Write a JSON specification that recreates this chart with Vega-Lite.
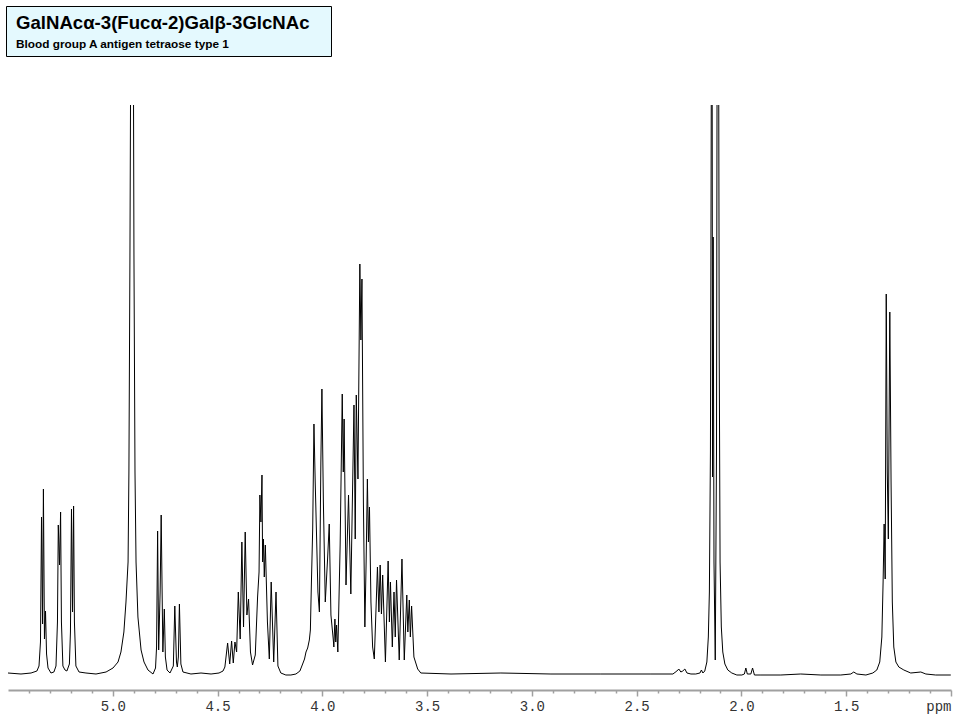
{
  "$schema": "https://vega.github.io/schema/vega-lite/v6.json",
  "padding": {"left": 5, "top": 5, "right": 5, "bottom": 5},
  "background": "white",
  "config": {"view": {"stroke": null}},
  "spacing": 48,
  "vconcat": [
    {
      "width": 325,
      "height": 50,
      "view": {"fill": "#e4f9fe", "stroke": "black", "strokeWidth": 1},
      "data": {"values": [
        {"k": "t", "txt": "GalNAcα-3(Fucα-2)Galβ-3GlcNAc"},
        {"k": "s", "txt": "Blood group A antigen tetraose type 1"}
      ]},
      "encoding": {
        "x": {"datum": 0, "type": "quantitative", "scale": {"domain": [0, 1], "range": [10, 325]}, "axis": null},
        "y": {"field": "k", "type": "nominal", "scale": {"type": "point", "padding": 0, "domain": ["t", "s"], "range": [22.5, 41.5]}, "axis": null},
        "text": {"field": "txt"}
      },
      "layer": [
        {"transform": [{"filter": "datum.k == 't'"}],
         "mark": {"type": "text", "align": "left", "baseline": "alphabetic", "font": "Liberation Sans", "fontWeight": "bold", "fontSize": 18.6, "color": "black"}},
        {"transform": [{"filter": "datum.k == 's'"}],
         "mark": {"type": "text", "align": "left", "baseline": "alphabetic", "font": "Liberation Sans", "fontWeight": "bold", "fontSize": 11.8, "color": "black"}}
      ]
    },
    {
      "width": 945,
      "height": 585,
      "data": {"values": [
        {"ppm": 5.500, "i": 0}, {"ppm": 5.438, "i": -1}, {"ppm": 5.390, "i": 0}, {"ppm": 5.362, "i": 2},
        {"ppm": 5.352, "i": 7}, {"ppm": 5.345, "i": 31}, {"ppm": 5.340, "i": 156}, {"ppm": 5.335, "i": 49},
        {"ppm": 5.331, "i": 184}, {"ppm": 5.326, "i": 34}, {"ppm": 5.321, "i": 62}, {"ppm": 5.316, "i": 19},
        {"ppm": 5.309, "i": 5}, {"ppm": 5.295, "i": 0}, {"ppm": 5.281, "i": 1}, {"ppm": 5.271, "i": 7},
        {"ppm": 5.264, "i": 51}, {"ppm": 5.260, "i": 148}, {"ppm": 5.254, "i": 108}, {"ppm": 5.249, "i": 161},
        {"ppm": 5.245, "i": 51}, {"ppm": 5.238, "i": 7}, {"ppm": 5.228, "i": 3}, {"ppm": 5.219, "i": 2},
        {"ppm": 5.207, "i": 9}, {"ppm": 5.202, "i": 41}, {"ppm": 5.197, "i": 164}, {"ppm": 5.192, "i": 61},
        {"ppm": 5.187, "i": 167}, {"ppm": 5.183, "i": 51}, {"ppm": 5.176, "i": 7}, {"ppm": 5.161, "i": 1},
        {"ppm": 5.128, "i": 0}, {"ppm": 5.080, "i": -1}, {"ppm": 5.032, "i": 1}, {"ppm": 4.999, "i": 5},
        {"ppm": 4.975, "i": 11}, {"ppm": 4.961, "i": 21}, {"ppm": 4.947, "i": 41}, {"ppm": 4.937, "i": 71},
        {"ppm": 4.927, "i": 111}, {"ppm": 4.923, "i": 201}, {"ppm": 4.918, "i": 421}, {"ppm": 4.914, "i": 650},
        {"ppm": 4.908, "i": 1500}, {"ppm": 4.902, "i": 650}, {"ppm": 4.899, "i": 421}, {"ppm": 4.894, "i": 201},
        {"ppm": 4.889, "i": 111}, {"ppm": 4.880, "i": 56}, {"ppm": 4.865, "i": 23}, {"ppm": 4.851, "i": 11},
        {"ppm": 4.832, "i": 3}, {"ppm": 4.808, "i": -1}, {"ppm": 4.796, "i": 5}, {"ppm": 4.791, "i": 26},
        {"ppm": 4.786, "i": 142}, {"ppm": 4.781, "i": 23}, {"ppm": 4.774, "i": 81}, {"ppm": 4.769, "i": 158},
        {"ppm": 4.761, "i": 21}, {"ppm": 4.754, "i": 64}, {"ppm": 4.749, "i": 16}, {"ppm": 4.741, "i": 3},
        {"ppm": 4.727, "i": 0}, {"ppm": 4.711, "i": 7}, {"ppm": 4.704, "i": 67}, {"ppm": 4.696, "i": 11},
        {"ppm": 4.692, "i": 6}, {"ppm": 4.687, "i": 16}, {"ppm": 4.682, "i": 69}, {"ppm": 4.675, "i": 9},
        {"ppm": 4.665, "i": 1}, {"ppm": 4.627, "i": -1}, {"ppm": 4.579, "i": 0}, {"ppm": 4.531, "i": -1},
        {"ppm": 4.493, "i": 0}, {"ppm": 4.474, "i": 2}, {"ppm": 4.465, "i": 6}, {"ppm": 4.452, "i": 30},
        {"ppm": 4.442, "i": 9}, {"ppm": 4.433, "i": 32}, {"ppm": 4.425, "i": 10}, {"ppm": 4.417, "i": 31},
        {"ppm": 4.409, "i": 21}, {"ppm": 4.401, "i": 81}, {"ppm": 4.392, "i": 34}, {"ppm": 4.384, "i": 131},
        {"ppm": 4.376, "i": 46}, {"ppm": 4.368, "i": 141}, {"ppm": 4.360, "i": 58}, {"ppm": 4.352, "i": 74},
        {"ppm": 4.343, "i": 21}, {"ppm": 4.333, "i": 8}, {"ppm": 4.320, "i": 18}, {"ppm": 4.309, "i": 76},
        {"ppm": 4.302, "i": 101}, {"ppm": 4.298, "i": 178}, {"ppm": 4.293, "i": 151}, {"ppm": 4.288, "i": 198},
        {"ppm": 4.285, "i": 111}, {"ppm": 4.281, "i": 134}, {"ppm": 4.277, "i": 96}, {"ppm": 4.272, "i": 128},
        {"ppm": 4.262, "i": 51}, {"ppm": 4.253, "i": 14}, {"ppm": 4.244, "i": 91}, {"ppm": 4.232, "i": 11},
        {"ppm": 4.221, "i": 81}, {"ppm": 4.212, "i": 7}, {"ppm": 4.198, "i": 0}, {"ppm": 4.174, "i": -2},
        {"ppm": 4.150, "i": -2}, {"ppm": 4.126, "i": -1}, {"ppm": 4.107, "i": 2}, {"ppm": 4.094, "i": 9},
        {"ppm": 4.085, "i": 14}, {"ppm": 4.078, "i": 21}, {"ppm": 4.070, "i": 25}, {"ppm": 4.062, "i": 33},
        {"ppm": 4.057, "i": 43}, {"ppm": 4.052, "i": 91}, {"ppm": 4.046, "i": 144}, {"ppm": 4.040, "i": 249},
        {"ppm": 4.034, "i": 191}, {"ppm": 4.028, "i": 141}, {"ppm": 4.021, "i": 81}, {"ppm": 4.014, "i": 61},
        {"ppm": 4.007, "i": 211}, {"ppm": 4.002, "i": 284}, {"ppm": 3.995, "i": 171}, {"ppm": 3.986, "i": 71},
        {"ppm": 3.975, "i": 114}, {"ppm": 3.967, "i": 149}, {"ppm": 3.959, "i": 58}, {"ppm": 3.948, "i": 34},
        {"ppm": 3.945, "i": 26}, {"ppm": 3.940, "i": 54}, {"ppm": 3.936, "i": 31}, {"ppm": 3.932, "i": 48},
        {"ppm": 3.926, "i": 21}, {"ppm": 3.915, "i": 128}, {"ppm": 3.905, "i": 279}, {"ppm": 3.900, "i": 201},
        {"ppm": 3.896, "i": 254}, {"ppm": 3.887, "i": 88}, {"ppm": 3.883, "i": 118}, {"ppm": 3.875, "i": 178},
        {"ppm": 3.864, "i": 79}, {"ppm": 3.849, "i": 268}, {"ppm": 3.843, "i": 134}, {"ppm": 3.838, "i": 278},
        {"ppm": 3.830, "i": 194}, {"ppm": 3.821, "i": 409}, {"ppm": 3.816, "i": 333}, {"ppm": 3.811, "i": 394},
        {"ppm": 3.804, "i": 171}, {"ppm": 3.797, "i": 46}, {"ppm": 3.791, "i": 111}, {"ppm": 3.785, "i": 194},
        {"ppm": 3.780, "i": 131}, {"ppm": 3.775, "i": 166}, {"ppm": 3.768, "i": 71}, {"ppm": 3.760, "i": 26},
        {"ppm": 3.752, "i": 14}, {"ppm": 3.737, "i": 106}, {"ppm": 3.730, "i": 61}, {"ppm": 3.724, "i": 108},
        {"ppm": 3.718, "i": 59}, {"ppm": 3.712, "i": 98}, {"ppm": 3.699, "i": 11}, {"ppm": 3.686, "i": 112},
        {"ppm": 3.680, "i": 51}, {"ppm": 3.675, "i": 91}, {"ppm": 3.666, "i": 26}, {"ppm": 3.658, "i": 81},
        {"ppm": 3.652, "i": 36}, {"ppm": 3.646, "i": 93}, {"ppm": 3.633, "i": 13}, {"ppm": 3.620, "i": 114},
        {"ppm": 3.609, "i": 13}, {"ppm": 3.597, "i": 78}, {"ppm": 3.592, "i": 41}, {"ppm": 3.585, "i": 73},
        {"ppm": 3.580, "i": 36}, {"ppm": 3.574, "i": 67}, {"ppm": 3.563, "i": 16}, {"ppm": 3.545, "i": 4},
        {"ppm": 3.530, "i": 0}, {"ppm": 3.386, "i": -1}, {"ppm": 3.148, "i": 0}, {"ppm": 2.909, "i": -1},
        {"ppm": 2.671, "i": -1}, {"ppm": 2.432, "i": -1}, {"ppm": 2.327, "i": -1}, {"ppm": 2.308, "i": 2},
        {"ppm": 2.299, "i": 4}, {"ppm": 2.289, "i": 1}, {"ppm": 2.280, "i": 2}, {"ppm": 2.270, "i": 4},
        {"ppm": 2.260, "i": 0}, {"ppm": 2.241, "i": -1}, {"ppm": 2.218, "i": -1}, {"ppm": 2.198, "i": 0},
        {"ppm": 2.191, "i": 3}, {"ppm": 2.184, "i": 0}, {"ppm": 2.175, "i": 2}, {"ppm": 2.165, "i": 11},
        {"ppm": 2.158, "i": 36}, {"ppm": 2.153, "i": 81}, {"ppm": 2.148, "i": 221}, {"ppm": 2.145, "i": 471},
        {"ppm": 2.141, "i": 900}, {"ppm": 2.138, "i": 196}, {"ppm": 2.135, "i": 436}, {"ppm": 2.131, "i": 111},
        {"ppm": 2.125, "i": 13}, {"ppm": 2.119, "i": 221}, {"ppm": 2.116, "i": 650}, {"ppm": 2.113, "i": 1000},
        {"ppm": 2.109, "i": 650}, {"ppm": 2.106, "i": 321}, {"ppm": 2.102, "i": 111}, {"ppm": 2.096, "i": 46},
        {"ppm": 2.089, "i": 21}, {"ppm": 2.079, "i": 9}, {"ppm": 2.065, "i": 3}, {"ppm": 2.046, "i": 0},
        {"ppm": 2.022, "i": -2}, {"ppm": 1.998, "i": -2}, {"ppm": 1.986, "i": -1}, {"ppm": 1.979, "i": 5},
        {"ppm": 1.972, "i": -1}, {"ppm": 1.955, "i": -1}, {"ppm": 1.947, "i": 5}, {"ppm": 1.938, "i": -2},
        {"ppm": 1.907, "i": -2}, {"ppm": 1.812, "i": -2}, {"ppm": 1.717, "i": -1}, {"ppm": 1.621, "i": -2},
        {"ppm": 1.526, "i": -2}, {"ppm": 1.478, "i": -1}, {"ppm": 1.464, "i": 1}, {"ppm": 1.449, "i": -1},
        {"ppm": 1.406, "i": -2}, {"ppm": 1.373, "i": 0}, {"ppm": 1.354, "i": 3}, {"ppm": 1.340, "i": 11},
        {"ppm": 1.330, "i": 36}, {"ppm": 1.324, "i": 91}, {"ppm": 1.319, "i": 149}, {"ppm": 1.314, "i": 94},
        {"ppm": 1.309, "i": 379}, {"ppm": 1.304, "i": 201}, {"ppm": 1.299, "i": 134}, {"ppm": 1.292, "i": 361},
        {"ppm": 1.286, "i": 191}, {"ppm": 1.280, "i": 71}, {"ppm": 1.273, "i": 26}, {"ppm": 1.263, "i": 11},
        {"ppm": 1.249, "i": 6}, {"ppm": 1.225, "i": 3}, {"ppm": 1.192, "i": 0}, {"ppm": 1.144, "i": 1},
        {"ppm": 1.120, "i": -1}, {"ppm": 1.073, "i": -2}, {"ppm": 1.001, "i": -2}
      ]},
      "mark": {"type": "line", "clip": true, "color": "black", "strokeWidth": 1},
      "encoding": {
        "x": {
          "field": "ppm", "type": "quantitative",
          "scale": {"domain": [5.5, 1.0], "range": [2, 945], "nice": false, "zero": false},
          "axis": {
            "title": null,
            "grid": false,
            "values": [5.4, 5.3, 5.2, 5.1, 5.0, 4.9, 4.8, 4.7, 4.6, 4.5, 4.4, 4.3, 4.2, 4.1, 4.0, 3.9, 3.8, 3.7, 3.6, 3.5, 3.4, 3.3, 3.2, 3.1, 3.0, 2.9, 2.8, 2.7, 2.6, 2.5, 2.4, 2.3, 2.2, 2.1, 2.0, 1.9, 1.8, 1.7, 1.6, 1.5, 1.4, 1.3, 1.2, 1.1, 1.0],
            "domainColor": "#a0a0a0",
            "domainWidth": 2,
            "tickColor": "#a0a0a0",
            "tickWidth": 1.5,
            "tickSize": {"condition": {"test": "abs(datum.value*2 - round(datum.value*2)) < 0.01", "value": 6}, "value": 3},
            "labelExpr": "abs(datum.value*2 - round(datum.value*2)) < 0.01 ? (datum.value < 1.05 ? 'ppm' : format(datum.value, '.1f')) : ''",
            "labelFont": "Liberation Mono",
            "labelFontSize": 14,
            "labelColor": "#333333",
            "labelPadding": 3,
            "labelBaseline": "top",
            "labelAlign": {"condition": {"test": "datum.value < 1.05", "value": "right"}, "value": "center"},
            "labelOverlap": false,
            "labelFlush": false
          }
        },
        "y": {
          "field": "i", "type": "quantitative",
          "scale": {"domain": [-17, 568], "nice": false, "zero": false},
          "axis": null
        }
      }
    }
  ]
}
